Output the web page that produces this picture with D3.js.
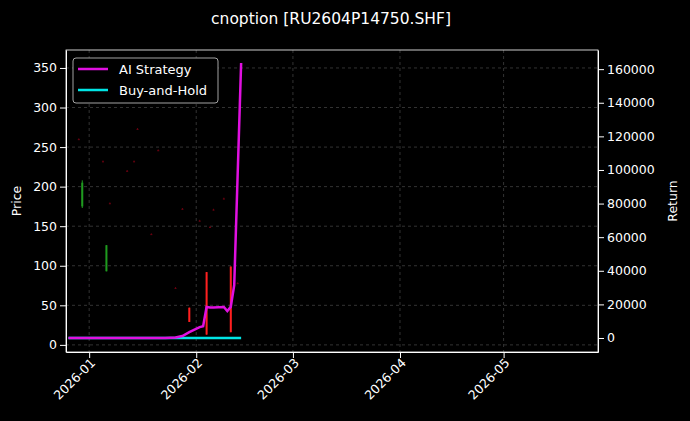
<!DOCTYPE html>
<html><head><meta charset="utf-8">
<script src="https://cdn.jsdelivr.net/npm/d3@7"></script>
<style>body{margin:0;background:#000}text{font-family:"DejaVu Sans",sans-serif}</style>
</head><body><div id="chart"></div>
<script>
const w = 690, h = 421;
const margin = {top: 50, right: 92, bottom: 69, left: 66};

// candles
const candleDates = ["2025-12-29","2025-12-30","2026-01-05","2026-01-06","2026-01-07","2026-01-12","2026-01-14","2026-01-15","2026-01-19","2026-01-21","2026-01-26","2026-01-28","2026-01-30","2026-02-02","2026-02-04","2026-02-05","2026-02-06","2026-02-09","2026-02-11","2026-02-13"];
const candleOpen  = [260,175,232,93,179,220,232,273,140,246,72,172,47,157,92,149,171,185,99,78];
const candleClose = [260,205,232,126,179,220,232,273,140,246,72,172,29,157,13,149,171,185,16,78];
const candleHigh  = [261,208,233,126,180,221,233,274,141,247,73,173,47,158,92,150,172,186,99,79];
const candleLow   = [259,173,231,93,178,219,231,272,139,245,71,171,29,156,13,148,170,184,16,77];

// returns
const lineDates = ["2025-12-26","2026-01-05","2026-01-15","2026-01-23","2026-01-26","2026-01-28","2026-01-30","2026-02-02","2026-02-03","2026-02-04","2026-02-05","2026-02-06","2026-02-09","2026-02-10","2026-02-11","2026-02-12","2026-02-14"];
const aiReturn   = [0,0,0,50,300,1200,3500,6500,7000,18500,18200,18200,18500,16000,18500,31500,163700];
const bhReturn   = [0,0,0,0,0,0,0,0,0,0,0,0,0,0,0,0,0];

const priceTicks = [0,50,100,150,200,250,300,350];
const returnTicks = [0,20000,40000,60000,80000,100000,120000,140000,160000];
const monthTicks = ["2026-01-01","2026-02-01","2026-03-01","2026-04-01","2026-05-01"];

const parse = d3.timeParse("%Y-%m-%d");
const pw = w - margin.left - margin.right, ph = h - margin.top - margin.bottom;

const svg = d3.select("#chart").append("svg").attr("width", w).attr("height", h)
  .style("background", "#000");
const g = svg.append("g").attr("transform", "translate(" + margin.left + "," + margin.top + ")");

const x = d3.scaleTime().domain([new Date(2025, 11, 25, 7), new Date(2026, 4, 28, 8)]).range([0, pw]);
const y = d3.scaleLinear().domain([-9, 372.7]).range([ph, 0]);
const y2 = d3.scaleLinear().domain([-8333, 171400]).range([ph, 0]);

// grid
g.selectAll(".hg").data(priceTicks).enter().append("line")
  .attr("x1", 0).attr("x2", pw).attr("y1", d => y(d)).attr("y2", d => y(d))
  .attr("stroke", "#555").attr("stroke-width", 0.6).attr("stroke-dasharray", "3,3");
g.selectAll(".vg").data(monthTicks).enter().append("line")
  .attr("x1", d => x(parse(d))).attr("x2", d => x(parse(d))).attr("y1", 0).attr("y2", ph)
  .attr("stroke", "#555").attr("stroke-width", 0.6).attr("stroke-dasharray", "3,3");

// candles
const candles = candleDates.map((d, i) => ({date: parse(d), o: candleOpen[i], c: candleClose[i], hi: candleHigh[i], lo: candleLow[i]}));
const col = d => d.c > d.o ? "#1f9a1f" : "#ff2020";
g.selectAll(".wick").data(candles).enter().append("line")
  .attr("x1", d => x(d.date)).attr("x2", d => x(d.date))
  .attr("y1", d => y(d.hi)).attr("y2", d => y(d.lo))
  .attr("stroke", d => d.o === d.c ? "#6a0010" : col(d)).attr("stroke-width", 1);
g.selectAll(".body").data(candles).enter().append("rect")
  .attr("x", d => x(d.date) - 1).attr("width", 2)
  .attr("y", d => y(Math.max(d.o, d.c)))
  .attr("height", d => Math.max(1, Math.abs(y(d.o) - y(d.c))))
  .attr("fill", d => d.o === d.c ? "#6a0010" : col(d));

// lines
const line = vals => d3.line().x((d, i) => x(parse(lineDates[i]))).y(d => y2(d))(vals);
g.append("path").attr("d", line(bhReturn)).attr("fill", "none").attr("stroke", "#00e5e5").attr("stroke-width", 2.5);
g.append("path").attr("d", line(aiReturn)).attr("fill", "none").attr("stroke", "#e010e0").attr("stroke-width", 2.5);

// frame
g.append("rect").attr("width", pw).attr("height", ph).attr("fill", "none").attr("stroke", "#fff").attr("stroke-width", 0.8);

// axes
const styleAx = sel => { sel.selectAll("path").attr("stroke", "#fff"); sel.selectAll("line").attr("stroke", "#fff");
  sel.selectAll("text").attr("fill", "#fff").style("font-size", "12.5px"); };
g.append("g").call(d3.axisLeft(y).tickValues(priceTicks).tickSizeOuter(0)).call(styleAx);
g.append("g").attr("transform", "translate(" + pw + ",0)")
  .call(d3.axisRight(y2).tickValues(returnTicks).tickFormat(d3.format("d")).tickSizeOuter(0)).call(styleAx);
const xa = g.append("g").attr("transform", "translate(0," + ph + ")")
  .call(d3.axisBottom(x).tickValues(monthTicks.map(parse)).tickFormat(d3.timeFormat("%Y-%m")).tickSizeOuter(0)).call(styleAx);
xa.selectAll("text")
  .attr("text-anchor", "end").attr("dx", "-0.3em").attr("dy", "0.3em").attr("transform", "rotate(-45)");

svg.append("text").attr("x", 331).attr("y", 24).attr("text-anchor", "middle").attr("fill", "#fff")
  .style("font-size", "15.5px").text("cnoption [RU2604P14750.SHF]");
svg.append("text").attr("transform", "translate(21," + (margin.top + ph / 2) + ") rotate(-90)")
  .attr("text-anchor", "middle").attr("fill", "#fff").style("font-size", "12.5px").text("Price");
svg.append("text").attr("transform", "translate(677," + (margin.top + ph / 2) + ") rotate(-90)")
  .attr("text-anchor", "middle").attr("fill", "#fff").style("font-size", "12.5px").text("Return");

// legend
const lg = svg.append("g").attr("transform", "translate(73,58)");
lg.append("rect").attr("width", 145).attr("height", 45).attr("rx", 3).attr("fill", "#000").attr("stroke", "#ccc").attr("stroke-width", 0.8);
[["AI Strategy", "#e010e0"], ["Buy-and-Hold", "#00e5e5"]].forEach((e, i) => {
  lg.append("line").attr("x1", 5).attr("x2", 35).attr("y1", 11 + i * 21).attr("y2", 11 + i * 21).attr("stroke", e[1]).attr("stroke-width", 2.5);
  lg.append("text").attr("x", 46).attr("y", 15.5 + i * 21).attr("fill", "#fff").style("font-size", "13px").text(e[0]);
});
</script></body></html>
